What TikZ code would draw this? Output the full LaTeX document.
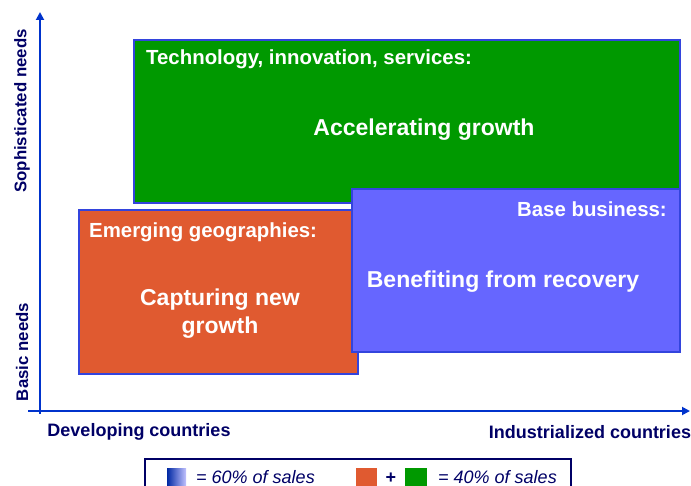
\documentclass[tikz,border=0pt]{standalone}
\usepackage{fontspec}
\setmainfont{Liberation Sans}
\usetikzlibrary{arrows.meta}
\definecolor{cgreen}{HTML}{009900}
\definecolor{corange}{HTML}{E05A30}
\definecolor{cblue}{HTML}{6666FF}
\definecolor{caxis}{HTML}{0033CC}
\definecolor{cnavy}{HTML}{000066}
\definecolor{cedge}{HTML}{3344DD}
\begin{document}
\begin{tikzpicture}[x=1pt,y=-1pt,
  box/.style={draw=cedge,line width=1.2pt,anchor=north west,inner sep=0pt,outer sep=0pt},
  wtxt/.style={text=white,font=\bfseries\fontsize{20.4}{24}\selectfont,inner sep=0pt},
  btxt/.style={text=white,font=\bfseries\fontsize{23}{28}\selectfont,inner sep=0pt,align=center},
  axlab/.style={text=cnavy,font=\bfseries\fontsize{18}{20}\selectfont,inner sep=0pt},
  vlab/.style={text=cnavy,font=\bfseries\fontsize{16.8}{20}\selectfont,inner sep=0pt,rotate=90},
  legtxt/.style={text=cnavy,font=\itshape\fontsize{18}{20}\selectfont,inner sep=0pt},
  axis/.style={draw=caxis,line width=1.8pt,-{Triangle[length=8pt,width=8pt]}}]
\useasboundingbox (0,0) rectangle (691,486);
% axes
\coordinate (yb) at (40,414);
\coordinate (yt) at (40,12);
\coordinate (xl) at (28,411);
\coordinate (xr) at (690,411);
\draw[axis] (yb) -- (yt);
\draw[axis] (xl) -- (xr);
% boxes
\node[box,fill=cgreen,minimum width=546pt,minimum height=163pt] (green) at (134,40) {};
\node[box,fill=corange,minimum width=279pt,minimum height=164pt] (orange) at (79,210) {};
\node[box,fill=cblue,minimum width=328pt,minimum height=163pt] (blue) at (352,189) {};
% texts
\node[wtxt,anchor=west] (t1) at (146,59) {Technology, innovation, services:};
\node[btxt] (t2) at (424,130) {Accelerating growth};
\node[wtxt,anchor=west] (t3) at (89,232) {Emerging geographies:};
\node[btxt] (t4) at (220,314) {Capturing new\\growth};
\node[wtxt,anchor=east] (t5) at (667,209) {Base business:};
\node[btxt] (t6) at (503,282) {Benefiting from recovery};
% axis labels
\node[vlab] (l1) at (22,111) {Sophisticated needs};
\node[vlab] (l2) at (22,352) {Basic needs};
\node[axlab] (l3) at (139,432) {Developing countries};
\node[axlab] (l4) at (590,432) {Industrialized countries};
% legend
\draw[draw=cnavy,line width=1.5pt] (145,459) rectangle (571,500);
\shade[left color=caxis!80!black,right color=cblue!40!white] (167,468) rectangle (186,490);
\node[legtxt,anchor=west] (lg1) at (196,477) {= 60\% of sales};
\fill[corange] (356,468) rectangle (377,490);
\node[legtxt,font=\bfseries\fontsize{18}{20}\selectfont] (plus) at (391,478) {+};
\fill[cgreen] (405,468) rectangle (427,490);
\node[legtxt,anchor=west] (lg2) at (438,477) {= 40\% of sales};
\end{tikzpicture}
\end{document}
